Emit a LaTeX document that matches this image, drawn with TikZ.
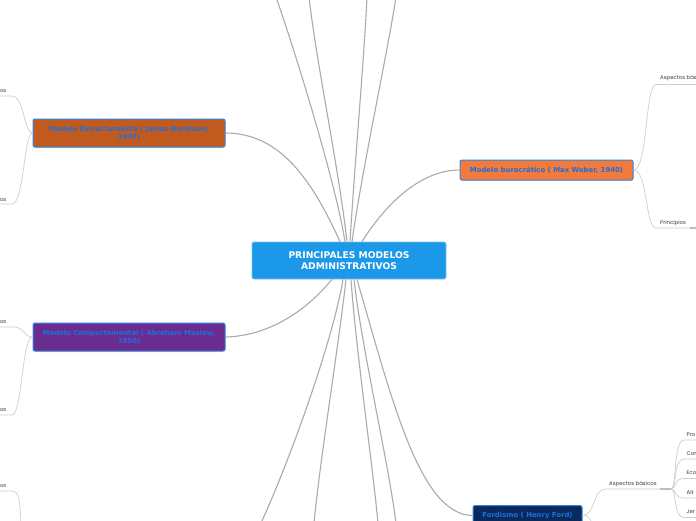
\documentclass[tikz,border=0pt]{standalone}
\usepackage{fontspec}
\setmainfont{DejaVu Sans}
\newfontfamily\lblfont{Poppins}
\usetikzlibrary{calc,shadows}
\definecolor{cblue}{RGB}{27,152,232}
\definecolor{cbord}{RGB}{120,195,242}
\definecolor{brownf}{RGB}{193,90,30}
\definecolor{purplef}{RGB}{107,44,144}
\definecolor{orangef}{RGB}{242,122,60}
\definecolor{navyf}{RGB}{10,42,94}
\definecolor{bordblue}{RGB}{46,134,224}
\definecolor{txtblue}{RGB}{30,111,217}
\definecolor{linegray}{RGB}{171,171,171}
\definecolor{lightgray}{RGB}{206,206,206}
\definecolor{lbltext}{RGB}{60,60,60}
\begin{document}
\begin{tikzpicture}[x=1pt,y=-1pt,
  topic/.style={draw=bordblue, line width=1pt, rounded corners=2pt, align=center,
    font=\fontsize{6.9}{8}\selectfont\bfseries, text=txtblue, inner sep=0pt,
    drop shadow={opacity=0.25, shadow xshift=0.5pt, shadow yshift=-1pt}},
  central/.style={draw=cbord, line width=0.8pt, fill=cblue, rounded corners=2pt, align=center,
    font=\fontsize{9.2}{11}\selectfont\bfseries, text=white, inner sep=0pt,
    minimum width=194pt, minimum height=37pt},
  mainline/.style={draw=linegray, line width=1.1pt},
  subline/.style={draw=lightgray, line width=0.7pt},
  stubline/.style={draw=linegray!80, line width=2.2pt},
  lbl/.style={font=\lblfont\fontsize{5.4}{6}\selectfont, text=lbltext, inner sep=0pt}
]
\useasboundingbox (0,0) rectangle (696,520);
\clip (0,0) rectangle (696,520);
\fill[white] (0,0) rectangle (696,520);

% coordinates of free ends
\coordinate (t1) at (276,-3);
\coordinate (t2) at (309,-3);
\coordinate (t3) at (367,-3);
\coordinate (t4) at (396,-3);
\coordinate (b1) at (261,523);
\coordinate (b2) at (314,523);
\coordinate (b3) at (378,523);
\coordinate (b4) at (396,523);

% central node
\node[central] (c) at (349,260.5) {PRINCIPALES MODELOS\\ ADMINISTRATIVOS};

% topic nodes
\node[topic, fill=brownf, minimum width=192pt, minimum height=28pt] (e) at (129,133) {Modelo Estructuralista ( James Burnham,\\ 1947)};
\node[topic, fill=purplef, minimum width=192pt, minimum height=28pt] (m) at (129,337) {Modelo Comportamental ( Abraham Maslow,\\ 1950)};
\node[topic, fill=orangef, minimum width=173pt, minimum height=20pt] (w) at (546.5,170) {Modelo burocrático ( Max Weber, 1940)};
\node[topic, fill=navyf, minimum width=109pt, minimum height=20pt] (f) at (527.5,515.5) {Fordismo ( Henry Ford)};

% main connectors
\draw[mainline] ($(c.north)+(-4,0)$) .. controls (336,185) and (298,60) .. (t1);
\draw[mainline] ($(c.north)+(-2,0)$) .. controls (339,170) and (316,60) .. (t2);
\draw[mainline] ($(c.north)+(1,0)$) .. controls (355,160) and (364,60) .. (t3);
\draw[mainline] ($(c.north)+(3,0)$) .. controls (362,170) and (388,50) .. (t4);
\draw[mainline] ($(c.north)+(-9,0)$) .. controls (312,180) and (280,133) .. (e.east);
\draw[mainline] ($(c.north)+(13,0)$) .. controls (385,205) and (420,170) .. (w.west);
\draw[mainline] ($(c.south)+(-17,0)$) .. controls (300,318) and (262,336) .. (m.east);
\draw[mainline] ($(c.south)+(8,0)$) .. controls (392,400) and (420,515) .. (f.west);
\draw[mainline] ($(c.south)+(-6,0)$) .. controls (333,340) and (290,460) .. (b1);
\draw[mainline] ($(c.south)+(-3,0)$) .. controls (338,350) and (320,460) .. (b2);
\draw[mainline] ($(c.south)+(2,0)$) .. controls (356,350) and (372,460) .. (b3);
\draw[mainline] ($(c.south)+(5,0)$) .. controls (362,350) and (388,460) .. (b4);

% left sub-branches
\node[lbl, anchor=base east] (e1) at (6.5,92) {os};
\node[lbl, anchor=base east] (e2) at (6.5,201) {os};
\node[lbl, anchor=base east] (m1) at (6.5,323) {os};
\node[lbl, anchor=base east] (m2) at (6.5,411) {os};
\node[lbl, anchor=base east] (x1) at (6.5,487) {os};
\coordinate (e1a) at (-2,96);
\coordinate (e2a) at (-2,204);
\coordinate (m1a) at (-2,327);
\coordinate (m2a) at (-2,415);
\coordinate (x1a) at (-2,491);
\coordinate (x1b) at (21,525);
\draw[subline] (e.west) .. controls (24,133) and (24,96) .. (12,96) -- (e1a);
\draw[subline] (e.west) .. controls (24,133) and (24,204) .. (12,204) -- (e2a);
\draw[subline] (m.west) .. controls (24,337) and (24,327) .. (14,327) -- (m1a);
\draw[subline] (m.west) .. controls (22,337) and (22,415) .. (12,415) -- (m2a);
\draw[subline] (x1a) -- (12,491) .. controls (19,491) and (20,500) .. (x1b);

% Burocratico sub-branches
\node[lbl, anchor=base west] (w1) at (660,79.5) {Aspectos bás};
\node[lbl, anchor=base west] (w2) at (660,224) {Principios};
\coordinate (w1a) at (700,84.5);
\coordinate (w2a) at (690,228);
\coordinate (w2b) at (700,228);
\draw[subline] (w.east) .. controls (648,170) and (645,84.5) .. (656,84.5) -- (w1a);
\draw[subline] (w.east) .. controls (648,170) and (645,228) .. (656,228) -- (w2a);
\draw[stubline] (w2a) -- (w2b);

% Fordismo sub-branches
\node[lbl, anchor=base west] (f1) at (609,485) {Aspectos básicos};
\coordinate (f1a) at (660,489);
\coordinate (f1b) at (671,489);
\coordinate (f2) at (594,530);
\draw[subline] (f.east) .. controls (596,515) and (592,489) .. (606,489) -- (f1a);
\draw[stubline] (f1a) -- (f1b);
\draw[subline] (f.east) .. controls (590,515) and (592,522) .. (f2);

\node[lbl, anchor=base west] (g1) at (686.5,436) {Pro};
\node[lbl, anchor=base west] (g2) at (686.5,455) {Con};
\node[lbl, anchor=base west] (g3) at (686.5,474.5) {Eco};
\node[lbl, anchor=base west] (g4) at (686.5,494) {Alt};
\node[lbl, anchor=base west] (g5) at (686.5,513.5) {Jer};
\coordinate (g1a) at (700,440);
\coordinate (g2a) at (700,459);
\coordinate (g3a) at (700,478.5);
\coordinate (g4a) at (700,498);
\coordinate (g5a) at (700,517.5);
\draw[subline] (f1b) .. controls (677,489) and (673,440) .. (684,440) -- (g1a);
\draw[subline] (f1b) .. controls (677,489) and (673,459) .. (684,459) -- (g2a);
\draw[subline] (f1b) .. controls (677,489) and (673,478.5) .. (684,478.5) -- (g3a);
\draw[subline] (f1b) .. controls (677,489) and (673,498) .. (684,498) -- (g4a);
\draw[subline] (f1b) .. controls (677,489) and (673,517.5) .. (684,517.5) -- (g5a);
\end{tikzpicture}
\end{document}
